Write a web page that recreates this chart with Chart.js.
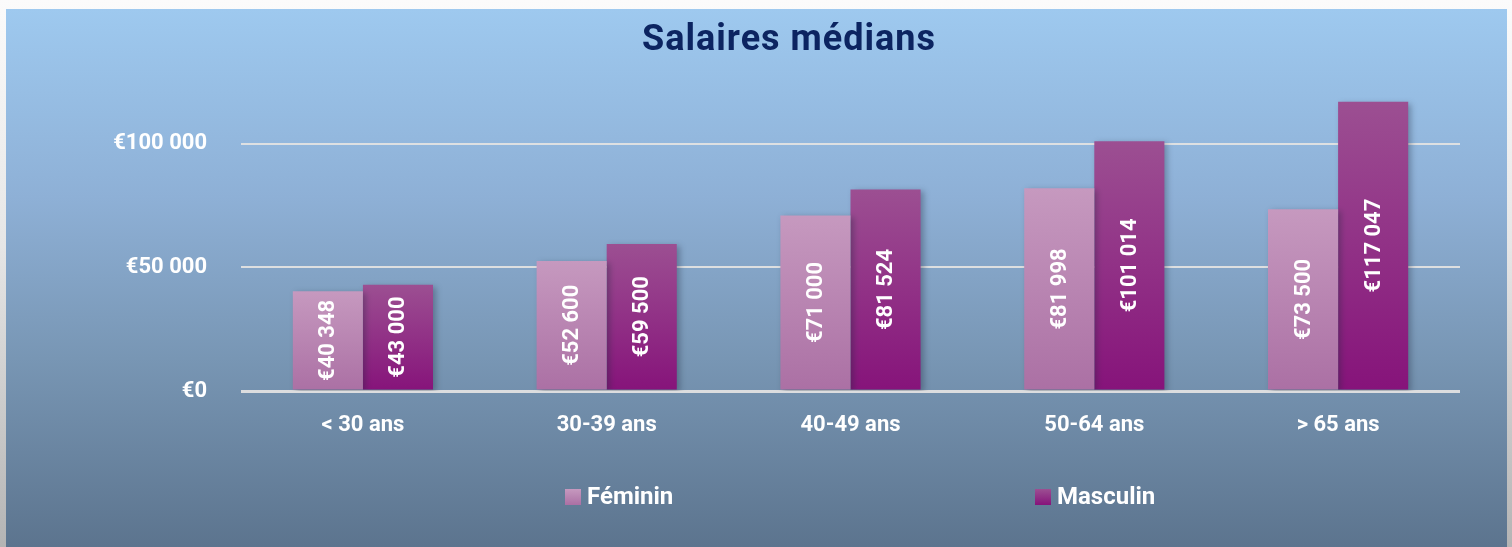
<!DOCTYPE html>
<html>
<head>
<meta charset="utf-8">
<script src="https://cdn.jsdelivr.net/npm/chart.js@4.4.1/dist/chart.umd.min.js"></script>
<style>
  html, body { margin: 0; padding: 0; width: 1512px; height: 547px; overflow: hidden;
    background: linear-gradient(to bottom, #fbfbfb 0%, #e6e6e6 45%, #b4b4b4 100%); }
  #panel { position: absolute; left: 6px; top: 9px; width: 1501px; height: 538px;
    background: linear-gradient(to bottom, #9ec9ef 0%, #8eb0d6 35%, #7896b4 65%, #5c748e 100%); }
  canvas { display: block; }
</style>
</head>
<body>
<div id="panel"><canvas id="chart" width="1501" height="538"></canvas></div>
<script>
/* données */
const categories = ['< 30 ans', '30-39 ans', '40-49 ans', '50-64 ans', '> 65 ans'];
const seriesNames = ['Féminin', 'Masculin'];
const feminin = [40348, 52600, 71000, 81998, 73500];
const masculin = [43000, 59500, 81524, 101014, 117047];
const yTicks = [0, 50000, 100000];
const chartTitle = 'Salaires médians';

/* couleurs : haut et bas du dégradé de chaque série */
const femColors = ['#c699bf', '#ab70a4'];
const mascColors = ['#9c4f92', '#86137a'];

const FONT = 'Roboto, "Noto Sans", sans-serif';

/* format "€40 348" */
const euro = (v) => '€' + String(v).replace(/\B(?=(\d{3})+(?!\d))/g, ' ');

/* dégradé vertical du haut de la barre jusqu'à la base */
function barGradient(colors) {
  return (ctx) => {
    const chart = ctx.chart;
    if (ctx.type !== 'data' || !chart.chartArea) return colors[1];
    const y = chart.scales.y;
    const g = chart.ctx.createLinearGradient(0, y.getPixelForValue(ctx.raw), 0, y.getPixelForValue(0));
    g.addColorStop(0, colors[0]);
    g.addColorStop(1, colors[1]);
    return g;
  };
}

/* ombre des barres + étiquettes verticales */
const barDecor = {
  id: 'barDecor',
  beforeDatasetsDraw(chart) {
    const c = chart.ctx;
    c.save();
    c.shadowColor = 'rgba(30, 40, 60, 0.35)';
    c.shadowBlur = 6;
    c.shadowOffsetX = 3;
    c.shadowOffsetY = 2;
  },
  afterDatasetsDraw(chart) {
    const c = chart.ctx;
    c.restore();
    c.save();
    c.fillStyle = '#ffffff';
    c.font = 'bold 22px ' + FONT;
    c.textAlign = 'center';
    c.textBaseline = 'middle';
    chart.data.datasets.forEach((ds, i) => {
      chart.getDatasetMeta(i).data.forEach((bar, j) => {
        c.save();
        c.translate(bar.x, (bar.y + bar.base) / 2);
        c.rotate(-Math.PI / 2);
        c.fillText(euro(ds.data[j]), 0, 1);
        c.restore();
      });
    });
    c.restore();
  },
};

/* titre et légende façon Excel */
const titleLegend = {
  id: 'titleLegend',
  afterDraw(chart) {
    const c = chart.ctx;
    c.save();
    c.fillStyle = '#0c2461';
    c.font = 'bold 36px ' + FONT;
    c.letterSpacing = '1px';
    c.textAlign = 'center';
    c.textBaseline = 'alphabetic';
    c.fillText(chartTitle, 783, 41);
    c.letterSpacing = '0px';

    const xs = [559, 1029];
    const palettes = [femColors, mascColors];
    c.font = 'bold 24px ' + FONT;
    c.textAlign = 'left';
    chart.data.datasets.forEach((ds, i) => {
      const g = c.createLinearGradient(0, 480, 0, 496);
      g.addColorStop(0, palettes[i][0]);
      g.addColorStop(1, palettes[i][1]);
      c.fillStyle = g;
      c.fillRect(xs[i], 480, 16, 16);
      c.fillStyle = '#ffffff';
      c.fillText(ds.label, xs[i] + 22, 495);
    });
    c.restore();
  },
};

const data = {
  labels: categories,
  datasets: [
    {
      label: seriesNames[0],
      data: feminin,
      backgroundColor: barGradient(femColors),
      categoryPercentage: 0.575,
      barPercentage: 1,
    },
    {
      label: seriesNames[1],
      data: masculin,
      backgroundColor: barGradient(mascColors),
      categoryPercentage: 0.575,
      barPercentage: 1,
    },
  ],
};

const config = {
  type: 'bar',
  data: data,
  options: {
    responsive: false,
    animation: false,
    layout: { padding: { top: 73, right: 47, left: 0, bottom: 0 } },
    plugins: {
      legend: { display: false },
      title: { display: false },
      tooltip: { enabled: false },
    },
    scales: {
      x: {
        grid: { display: false, drawTicks: false },
        border: { display: false },
        ticks: {
          color: '#ffffff',
          padding: 21,
          font: { size: 22, weight: 'bold', family: FONT },
        },
        afterFit: (axis) => { axis.height = 156; },
      },
      y: {
        min: 0,
        max: 125000,
        afterBuildTicks: (axis) => { axis.ticks = yTicks.map((v) => ({ value: v })); },
        grid: {
          color: 'rgba(226, 226, 226, 0.95)',
          lineWidth: (ctx) => (ctx.tick && ctx.tick.value === 0 ? 3 : 2),
          drawTicks: false,
        },
        border: { display: false },
        ticks: {
          color: '#ffffff',
          padding: 34,
          font: { size: 22, weight: 'bold', family: FONT },
          callback: (v) => euro(v),
        },
        afterFit: (axis) => { axis.width = 235; },
      },
    },
  },
  plugins: [barDecor, titleLegend],
};

new Chart(document.getElementById('chart'), config);
</script>
</body>
</html>
